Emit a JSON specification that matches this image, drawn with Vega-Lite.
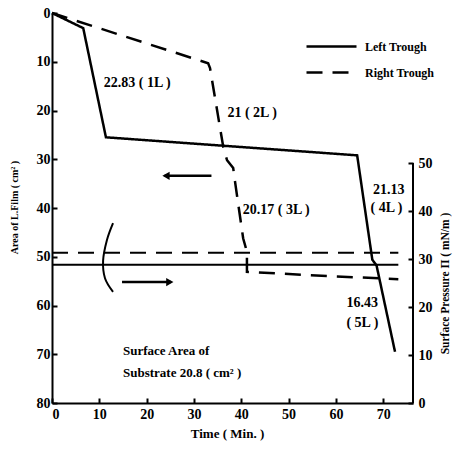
{
  "$schema": "https://vega.github.io/schema/vega-lite/v6.json",
  "width": 361,
  "height": 390,
  "autosize": {"type": "none"},
  "padding": {"left": 52, "top": 13, "right": 49, "bottom": 47},
  "background": "white",
  "config": {
    "view": {"stroke": null},
    "font": "Liberation Serif",
    "axis": {
      "grid": false,
      "domainColor": "black",
      "tickColor": "black",
      "labelColor": "black",
      "titleColor": "black",
      "labelFont": "Liberation Serif",
      "labelFontWeight": "bold",
      "labelFontSize": 14,
      "titleFont": "Liberation Serif",
      "titleFontWeight": "bold",
      "tickSize": -5,
      "domainWidth": 2,
      "tickWidth": 2
    },
    "text": {"font": "Liberation Serif", "fontWeight": "bold", "color": "black"}
  },
  "layer": [
    {
      "encoding": {
        "x": {
          "field": "t", "type": "quantitative",
          "scale": {"domain": [0, 76.3], "nice": false, "zero": false},
          "axis": {"values": [0, 10, 20, 30, 40, 50, 60, 70], "title": "Time ( Min. )", "titleFontSize": 13, "titleX": 175, "titleY": 30, "titleBaseline": "middle", "labelPadding": 9}
        },
        "y": {
          "field": "a", "type": "quantitative",
          "scale": {"domain": [0, 80], "reverse": true, "nice": false, "zero": false},
          "axis": {"orient": "left", "values": [0, 10, 20, 30, 40, 50, 60, 70, 80], "title": "Area of L.Film ( cm² )", "titleFontSize": 10, "titleAngle": 270, "titleX": -38, "titleY": 194, "titleBaseline": "middle", "titleAlign": "center", "labelPadding": 7}
        }
      },
      "layer": [
        {
          "data": {"values": [
            {"trough": "Left Trough", "i": 0, "t": 0, "a": 0},
            {"trough": "Left Trough", "i": 1, "t": 6.6, "a": 3.1},
            {"trough": "Left Trough", "i": 2, "t": 11.4, "a": 25.5},
            {"trough": "Left Trough", "i": 3, "t": 64.5, "a": 29.2},
            {"trough": "Left Trough", "i": 4, "t": 67.7, "a": 50.6},
            {"trough": "Left Trough", "i": 5, "t": 68.6, "a": 51.8},
            {"trough": "Left Trough", "i": 6, "t": 72.5, "a": 69.5},
            {"trough": "Right Trough", "i": 0, "t": 0, "a": 0},
            {"trough": "Right Trough", "i": 1, "t": 33.0, "a": 10.3},
            {"trough": "Right Trough", "i": 2, "t": 33.4, "a": 11.3},
            {"trough": "Right Trough", "i": 3, "t": 36.2, "a": 27.5},
            {"trough": "Right Trough", "i": 4, "t": 37.0, "a": 30.2},
            {"trough": "Right Trough", "i": 5, "t": 38.3, "a": 31.8},
            {"trough": "Right Trough", "i": 6, "t": 38.7, "a": 34.7},
            {"trough": "Right Trough", "i": 7, "t": 40.4, "a": 46.2},
            {"trough": "Right Trough", "i": 8, "t": 41.2, "a": 49.0},
            {"trough": "Right Trough", "i": 9, "t": 41.2, "a": 53.1},
            {"trough": "Right Trough", "i": 10, "t": 57.0, "a": 53.9},
            {"trough": "Right Trough", "i": 11, "t": 73.2, "a": 54.6}
          ]},
          "mark": {"type": "line", "color": "black", "strokeWidth": 2.5},
          "encoding": {
            "strokeDash": {
              "field": "trough", "type": "nominal",
              "scale": {"domain": ["Left Trough", "Right Trough"], "range": [[1, 0], [16, 10]]},
              "legend": {"orient": "none", "legendX": 268, "legendY": 22, "title": null, "symbolType": "M-2.5,0H2.5", "symbolSize": 400, "symbolStrokeWidth": 2.5, "symbolStrokeColor": "black", "labelFont": "Liberation Serif", "labelFontWeight": "bold", "labelFontSize": 12, "labelOffset": 22, "rowPadding": 8, "padding": 0, "labelColor": "black"}
            },
            "order": {"field": "i", "type": "quantitative"}
          }
        },
        {
          "data": {"values": [
            {"t": 18.0, "a": 14.4, "label": "22.83 ( 1L )"},
            {"t": 42.3, "a": 20.5, "label": "21 ( 2L )"},
            {"t": 47.4, "a": 40.4, "label": "20.17 ( 3L )"},
            {"t": 71.2, "a": 36.3, "label": "21.13"},
            {"t": 70.7, "a": 40.0, "label": "( 4L )"},
            {"t": 65.6, "a": 59.5, "label": "16.43"},
            {"t": 65.6, "a": 63.6, "label": "( 5L )"}
          ]},
          "mark": {"type": "text", "fontSize": 14, "align": "center", "baseline": "middle"},
          "encoding": {"text": {"field": "label"}}
        },
        {
          "data": {"values": [
            {"t": 15.0, "a": 69.3, "label": "Surface Area of"},
            {"t": 15.0, "a": 73.8, "label": "Substrate 20.8 ( cm² )"}
          ]},
          "mark": {"type": "text", "fontSize": 13, "align": "left", "baseline": "middle"},
          "encoding": {"text": {"field": "label"}}
        },
        {
          "data": {"values": [
            {"t": 23.8, "t2": 33.7, "a": 33.4},
            {"t": 14.8, "t2": 25.1, "a": 55.2}
          ]},
          "mark": {"type": "rule", "color": "black", "strokeWidth": 2.5},
          "encoding": {"x2": {"field": "t2"}}
        },
        {
          "data": {"values": [
            {"t": 24.1, "a": 33.4, "dir": "left"},
            {"t": 24.9, "a": 55.2, "dir": "right"}
          ]},
          "mark": {"type": "point", "filled": true, "color": "black", "opacity": 1, "size": 70},
          "encoding": {
            "shape": {"field": "dir", "type": "nominal", "scale": {"domain": ["left", "right"], "range": ["triangle-left", "triangle-right"]}, "legend": null}
          }
        },
        {
          "data": {"values": [
            {"i": 0, "t": 12.9, "a": 43.1},
            {"i": 1, "t": 11.6, "a": 46.6},
            {"i": 2, "t": 10.8, "a": 50.8},
            {"i": 3, "t": 11.2, "a": 54.4},
            {"i": 4, "t": 12.9, "a": 57.2}
          ]},
          "mark": {"type": "line", "color": "black", "strokeWidth": 2, "interpolate": "cardinal"},
          "encoding": {"order": {"field": "i", "type": "quantitative"}}
        }
      ]
    },
    {
      "encoding": {
        "x": {
          "field": "t", "type": "quantitative",
          "scale": {"domain": [0, 76.3], "nice": false, "zero": false},
          "axis": {"values": [0, 10, 20, 30, 40, 50, 60, 70], "title": "Time ( Min. )", "titleFontSize": 13, "titleX": 175, "titleY": 30, "titleBaseline": "middle", "labelPadding": 9}
        },
        "y": {
          "field": "p", "type": "quantitative",
          "scale": {"domain": [0, 81.25], "nice": false, "zero": false},
          "axis": {"orient": "right", "values": [0, 10, 20, 30, 40, 50], "domain": false, "title": "Surface Pressure Π ( mN/m )", "titleFontSize": 11.5, "titleAngle": 270, "titleX": 32, "titleY": 270, "titleBaseline": "middle", "titleAlign": "center", "labelPadding": 10}
        }
      },
      "layer": [
        {
          "data": {"values": [
            {"trough": "Left Trough", "i": 0, "t": 0, "p": 28.8},
            {"trough": "Left Trough", "i": 1, "t": 73.2, "p": 28.8},
            {"trough": "Right Trough", "i": 0, "t": 0, "p": 31.3},
            {"trough": "Right Trough", "i": 1, "t": 73.2, "p": 31.3}
          ]},
          "mark": {"type": "line", "color": "black", "strokeWidth": 2},
          "encoding": {
            "strokeDash": {
              "field": "trough", "type": "nominal",
              "scale": {"domain": ["Left Trough", "Right Trough"], "range": [[1, 0], [16, 10]]},
              "legend": {"orient": "none", "legendX": 268, "legendY": 22, "title": null, "symbolType": "M-2.5,0H2.5", "symbolSize": 400, "symbolStrokeWidth": 2.5, "symbolStrokeColor": "black", "labelFont": "Liberation Serif", "labelFontWeight": "bold", "labelFontSize": 12, "labelOffset": 22, "rowPadding": 8, "padding": 0, "labelColor": "black"}
            },
            "order": {"field": "i", "type": "quantitative"}
          }
        },
        {
          "data": {"values": [{"t": 76.3, "p": 0, "p2": 50}]},
          "mark": {"type": "rule", "color": "black", "strokeWidth": 2},
          "encoding": {"y2": {"field": "p2"}}
        }
      ]
    }
  ],
  "resolve": {"scale": {"y": "independent"}}
}
